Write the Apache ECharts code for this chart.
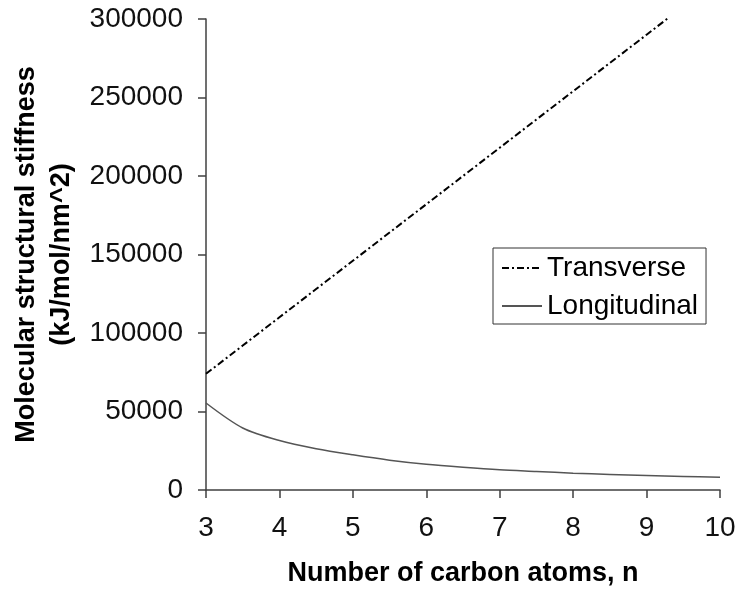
<!DOCTYPE html>
<html>
<head>
<meta charset="utf-8">
<script src="https://cdn.jsdelivr.net/npm/echarts@6/dist/echarts.min.js"></script>
<style>
  html, body { margin: 0; padding: 0; background: #fff; }
  #main { width: 737px; height: 592px; }
</style>
</head>
<body>
<div id="main"></div>
<script>
// number of carbon atoms
var nValues = [3, 3.5, 4, 4.5, 5, 5.5, 6, 6.5, 7, 7.5, 8, 8.5, 9, 9.5, 10];
// stiffness (kJ/mol/nm^2)
var transverse = [74000, 92000, 110000, 128000, 146000, 164000, 182000, 200000, 218000, 236000, 254000, 272000, 290000, 308000, 326000];
var longitudinal = [55400, 39500, 31500, 26300, 22400, 19000, 16400, 14500, 12900, 11800, 10700, 9900, 9200, 8600, 8100];

var xTicks = { min: 3, max: 10, step: 1 };
var yTicks = { min: 0, max: 300000, step: 50000 };

function pairs(xs, ys) {
  var out = [];
  for (var i = 0; i < xs.length; i++) {
    out.push([xs[i], ys[i]]);
  }
  return out;
}

var chart = echarts.init(document.getElementById('main'), null, { renderer: 'canvas' });
var font = 'Liberation Sans, Arial, sans-serif';
var axisColor = '#404040';

chart.setOption({
  backgroundColor: '#ffffff',
  animation: false,
  textStyle: { fontFamily: font },
  grid: {
    left: 206,
    right: 17,
    top: 19,
    bottom: 102,
    containLabel: false,
    outerBoundsMode: 'none'
  },
  legend: {
    orient: 'vertical',
    left: 493,
    top: 248,
    padding: [6, 8, 4, 8],
    itemGap: 10,
    itemWidth: 40,
    itemHeight: 14,
    borderColor: '#333',
    borderWidth: 1,
    borderRadius: 0,
    itemStyle: { opacity: 0 },
    textStyle: { fontSize: 28, color: '#000', fontFamily: font },
    data: ['Transverse', 'Longitudinal']
  },
  xAxis: {
    type: 'value',
    min: xTicks.min,
    max: xTicks.max,
    interval: xTicks.step,
    name: 'Number of carbon atoms, n',
    nameLocation: 'middle',
    nameGap: 70,
    nameTextStyle: { fontSize: 27, fontWeight: 'bold', color: '#000', fontFamily: font },
    axisLine: { show: true, lineStyle: { color: axisColor, width: 1.5 } },
    axisTick: { show: true, inside: false, length: 8, lineStyle: { color: axisColor, width: 1.5 } },
    axisLabel: { margin: 24, fontSize: 28, color: '#111', fontFamily: font },
    splitLine: { show: false }
  },
  yAxis: {
    type: 'value',
    min: yTicks.min,
    max: yTicks.max,
    interval: yTicks.step,
    name: 'Molecular structural stiffness\n(kJ/mol/nm^2)',
    nameLocation: 'middle',
    nameRotate: 90,
    nameGap: 117,
    nameTextStyle: { fontSize: 27, fontWeight: 'bold', color: '#000', lineHeight: 35, fontFamily: font },
    axisLine: { show: true, lineStyle: { color: axisColor, width: 1.5 } },
    axisTick: { show: true, inside: false, length: 8, lineStyle: { color: axisColor, width: 1.5 } },
    axisLabel: {
      margin: 23, fontSize: 28, color: '#111', fontFamily: font,
      formatter: function (v) { return String(v); }
    },
    splitLine: { show: false }
  },
  series: [
    {
      name: 'Transverse',
      type: 'line',
      data: pairs(nValues, transverse),
      showSymbol: false,
      symbol: 'none',
      clip: true,
      lineStyle: { color: '#000', width: 2, type: [7, 3, 2, 3] },
      itemStyle: { color: '#000' }
    },
    {
      name: 'Longitudinal',
      type: 'line',
      data: pairs(nValues, longitudinal),
      showSymbol: false,
      symbol: 'none',
      smooth: 0.3,
      clip: true,
      lineStyle: { color: '#555', width: 1.5, type: 'solid' },
      itemStyle: { color: '#555' }
    }
  ]
});
</script>
</body>
</html>
